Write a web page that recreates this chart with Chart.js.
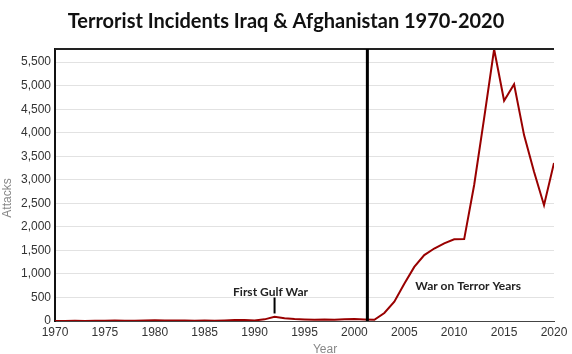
<!DOCTYPE html>
<html>
<head>
<meta charset="utf-8">
<script src="https://cdn.jsdelivr.net/npm/chart.js@4.4.1/dist/chart.umd.min.js"></script>
<style>
  html, body { margin: 0; padding: 0; background: #fff; }
  #wrap { width: 572px; height: 354px; position: relative; }
</style>
</head>
<body>
<div id="wrap"><canvas id="attacks"></canvas></div>
<script>
// years and attack counts (Iraq + Afghanistan)
var years = [1970, 1971, 1972, 1973, 1974, 1975, 1976, 1977, 1978, 1979,
             1980, 1981, 1982, 1983, 1984, 1985, 1986, 1987, 1988, 1989,
             1990, 1991, 1992, 1993, 1994, 1995, 1996, 1997, 1998, 1999,
             2000, 2001, 2002, 2003, 2004, 2005, 2006, 2007, 2008, 2009,
             2010, 2011, 2012, 2013, 2014, 2015, 2016, 2017, 2018, 2019, 2020];
var attacks = [2, 1, 3, 2, 5, 4, 8, 6, 4, 10,
               14, 12, 9, 11, 7, 10, 6, 12, 20, 22,
               12, 35, 90, 60, 40, 32, 28, 34, 24, 35,
               40, 32, 25, 170, 410, 790, 1150, 1400, 1540, 1650,
               1735, 1740, 2890, 4310, 5775, 4680, 5030, 3950, 3170, 2460, 3360];
var yTicks = [0, 500, 1000, 1500, 2000, 2500, 3000, 3500, 4000, 4500, 5000, 5500];

var chartTitle = 'Terrorist Incidents Iraq & Afghanistan 1970-2020';

// annotations, in data units
var notes = [
  { text: "First Gulf War", x: 1991.6, y: 620 },
  { text: "War on Terror Years", x: 2011.4, y: 740 }
];
var markers = [
  { x: 2001.3, from: 0, to: null, width: 3 },   // 9/11 line, full height
  { x: 1992, from: 160, to: 500, width: 2 }
];

var annotate = {
  id: 'annotate',
  afterDatasetsDraw: function (chart) {
    var c = chart.ctx, xs = chart.scales.x, ys = chart.scales.y, a = chart.chartArea;
    c.save();
    // top frame line
    c.strokeStyle = '#222';
    c.lineWidth = 2;
    c.beginPath();
    c.moveTo(a.left, a.top);
    c.lineTo(a.right, a.top);
    c.stroke();
    c.strokeStyle = '#000';
    markers.forEach(function (m) {
      var px = xs.getPixelForValue(m.x);
      c.lineWidth = m.width;
      c.beginPath();
      c.moveTo(px, ys.getPixelForValue(m.from));
      c.lineTo(px, m.to === null ? a.top : ys.getPixelForValue(m.to));
      c.stroke();
    });
    c.fillStyle = '#222';
    c.font = 'bold 12px Lato, sans-serif';
    c.textAlign = 'center';
    c.textBaseline = 'middle';
    notes.forEach(function (n) {
      c.fillText(n.text, xs.getPixelForValue(n.x), ys.getPixelForValue(n.y));
    });

    // title and axis titles
    c.fillStyle = '#111';
    c.font = 'bold 20px Lato, sans-serif';
    c.fillText(chartTitle, 286, 22);
    c.fillStyle = '#888';
    c.font = '12px "Liberation Sans", sans-serif';
    c.fillText('Year', 325, 350);
    c.translate(8, 198);
    c.rotate(-Math.PI / 2);
    c.fillText('Attacks', 0, 0);
    c.restore();
  }
};

var points = years.map(function (yr, i) { return { x: yr, y: attacks[i] }; });

var ctx = document.getElementById('attacks').getContext('2d');
var chart = new Chart(ctx, {
  type: 'line',
  data: {
    datasets: [{
      label: 'Attacks',
      data: points,
      borderColor: '#990000',
      borderWidth: 2,
      pointRadius: 0,
      tension: 0,
      fill: false
    }]
  },
  options: {
    responsive: true,
    maintainAspectRatio: false,
    animation: false,
    layout: { padding: { left: 0, right: 18, top: 49, bottom: 0 } },
    plugins: {
      legend: { display: false },
      tooltip: { enabled: false },
      title: { display: false }
    },
    scales: {
      x: {
        type: 'linear',
        min: 1970,
        max: 2020,
        afterFit: function (scale) { scale.height = 33; },
        ticks: {
          stepSize: 5,
          color: '#333',
          font: { family: 'Liberation Sans', size: 12 },
          padding: 0,
          callback: function (v) { return String(v); }
        },
        grid: { display: false, drawTicks: true, tickLength: 4, tickColor: '#333' },
        border: { color: '#444', width: 1 }
      },
      y: {
        min: 0,
        max: 5780,
        afterBuildTicks: function (scale) {
          scale.ticks = yTicks.map(function (v) { return { value: v }; });
        },
        afterFit: function (scale) { scale.width = 55; },
        ticks: {
          color: '#333',
          font: { family: 'Liberation Sans', size: 12 },
          padding: 4,
          callback: function (v) { return v.toLocaleString('en-US'); }
        },
        grid: { color: '#e2e2e2', lineWidth: 1, drawTicks: false },
        border: { color: '#111', width: 2 }
      }
    }
  },
  plugins: [annotate]
});
</script>
</body>
</html>
